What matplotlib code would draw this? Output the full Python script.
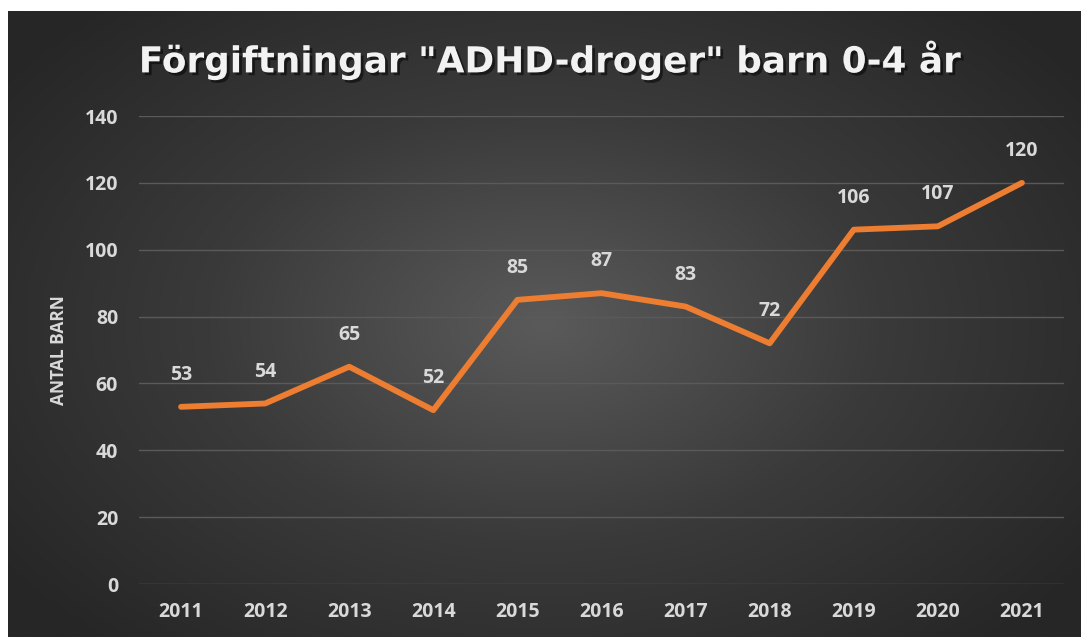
import numpy as np
import matplotlib.pyplot as plt
import matplotlib.patheffects as pe
from matplotlib.colors import LinearSegmentedColormap

years = ['2011', '2012', '2013', '2014', '2015', '2016', '2017', '2018', '2019', '2020', '2021']
antal = [53, 54, 65, 52, 85, 87, 83, 72, 106, 107, 120]

plt.rcParams['font.family'] = ['Open Sans', 'DejaVu Sans']

fig = plt.figure(figsize=(10.81, 6.37), dpi=100)
fig.patch.set_facecolor('white')

# radial gradient background
bg = fig.add_axes([8 / 1081, 0, 1 - 8 / 1081, 626 / 637])
yy, xx = np.mgrid[-1:1:300j, -1:1:500j]
r = np.sqrt(xx ** 2 + (yy * 0.9) ** 2)
cmap = LinearSegmentedColormap.from_list('bg', ['#5a5a5a', '#3a3a3a', '#262626'])
bg.imshow(np.clip(r / 1.25, 0, 1), cmap=cmap, aspect='auto', extent=[0, 1, 0, 1])
bg.set_axis_off()

ax = fig.add_axes([139 / 1081, 53 / 637, 925 / 1081, 468 / 637])
ax.patch.set_alpha(0)
x = np.arange(len(years))
ax.plot(x, antal, color='#ED7D31', lw=4.2, solid_joinstyle='round', solid_capstyle='round', zorder=3)

for xi, v in zip(x, antal):
    ax.annotate(str(v), (xi, v), xytext=(0, 23), textcoords='offset points',
                ha='center', va='center', color='#d9d9d9', fontsize=14, fontweight='bold')

ax.set_xlim(-0.5, len(years) - 0.5)
ax.set_ylim(0, 140)
ax.set_yticks(range(0, 141, 20))
ax.set_xticks(x)
ax.set_xticklabels(years)
ax.grid(axis='y', color='#5a5a5a', lw=1)
ax.set_axisbelow(True)
for s in ax.spines.values():
    s.set_visible(False)
ax.tick_params(length=0, colors='#d9d9d9', labelsize=14)
ax.tick_params(axis='y', pad=15)
ax.tick_params(axis='x', pad=13)
for lab in ax.get_xticklabels() + ax.get_yticklabels():
    lab.set_fontweight('bold')

ax.set_ylabel('ANTAL BARN', color='#d9d9d9', fontsize=12.5, fontweight='bold', labelpad=12)

fig.text(550 / 1081, 1 - 60 / 637, 'Förgiftningar "ADHD-droger" barn 0-4 år',
         ha='center', va='center', color='#f2f2f2', fontsize=25.8, fontweight='bold',
         family=['DejaVu Sans'],
         path_effects=[pe.withSimplePatchShadow(offset=(2, -2), shadow_rgbFace='black', alpha=0.5)])

fig.savefig('out.png', dpi=100)
